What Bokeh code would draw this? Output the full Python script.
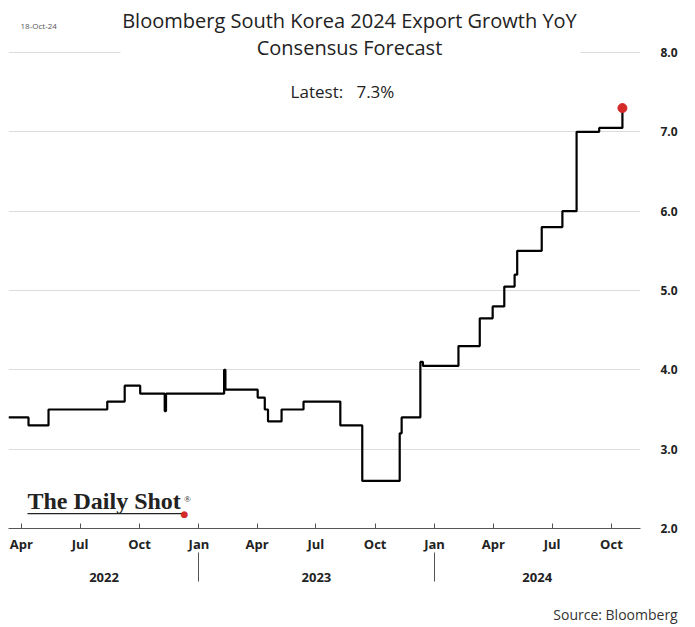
import pandas as pd
from bokeh.plotting import figure
from bokeh.models import (FixedTicker, LinearAxis, Label, BoxAnnotation,
                          Range1d, ColumnDataSource, NumeralTickFormatter)
from bokeh.embed import file_html
from bokeh.resources import INLINE

# ---- data ----
change_dates = ["2022-03-12", "2022-04-12", "2022-05-13", "2022-08-12", "2022-09-08",
                "2022-10-02", "2022-11-09", "2022-11-11", "2023-02-09", "2023-02-11",
                "2023-04-02", "2023-04-13", "2023-04-18", "2023-05-09", "2023-06-12",
                "2023-08-08", "2023-09-11", "2023-11-08", "2023-11-11", "2023-12-10",
                "2023-12-14", "2024-02-07", "2024-03-11", "2024-03-31", "2024-04-18",
                "2024-05-04", "2024-05-08", "2024-06-15", "2024-07-17", "2024-08-08",
                "2024-09-12", "2024-10-18"]
forecast_values = [3.4, 3.3, 3.5, 3.6, 3.8,
                   3.7, 3.48, 3.7, 4.0, 3.75,
                   3.65, 3.5, 3.35, 3.5, 3.6,
                   3.3, 2.6, 3.2, 3.4, 4.1,
                   4.05, 4.3, 4.65, 4.8, 5.05,
                   5.2, 5.5, 5.8, 6.0, 7.0,
                   7.05, 7.3]
latest_date = "2024-10-18"
latest_value = 7.3

month_tick_dates = ["2022-04-01", "2022-07-01", "2022-10-01", "2023-01-01", "2023-04-01",
                    "2023-07-01", "2023-10-01", "2024-01-01", "2024-04-01", "2024-07-01",
                    "2024-10-01"]
month_tick_labels = ["Apr", "Jul", "Oct", "Jan", "Apr", "Jul", "Oct", "Jan", "Apr", "Jul", "Oct"]
year_label_dates = ["2022-08-07", "2023-07-02", "2024-06-08"]
year_labels = ["2022", "2023", "2024"]
year_divider_dates = ["2023-01-01", "2024-01-01"]
y_ticks = [2, 3, 4, 5, 6, 7, 8]
x_start, x_end = "2022-03-12", "2024-11-15"
source_note = "Source: Bloomberg"


def ms(d):
    return int(pd.Timestamp(d).value // 10**6)


FONT = "Open Sans"

src = ColumnDataSource(dict(x=[ms(d) for d in change_dates], y=forecast_values))

p = figure(width=688, height=626, output_backend="svg", toolbar_location=None,
           x_range=Range1d(ms(x_start), ms(x_end)), y_range=Range1d(2.0, 8.53),
           x_axis_location="below", y_axis_location="right",
           min_border_left=8, min_border_top=10, min_border_right=48, min_border_bottom=98)
p.extra_x_ranges = {"note": Range1d(0, 632)}
p.outline_line_color = None
p.background_fill_color = "white"
p.xgrid.grid_line_color = None
p.ygrid.grid_line_color = "#dcdcdc"
p.ygrid.ticker = FixedTicker(ticks=y_ticks)

# month axis
xa = p.xaxis[0]
xa.ticker = FixedTicker(ticks=[ms(d) for d in month_tick_dates])
xa.major_label_overrides = {ms(d): lab for d, lab in zip(month_tick_dates, month_tick_labels)}
xa.axis_line_color = "#555555"
xa.axis_line_width = 1.2
xa.major_tick_line_color = "#555555"
xa.major_tick_in = 5
xa.major_tick_out = 0
xa.minor_tick_line_color = None
xa.major_label_standoff = 6
xa.major_label_text_font = FONT
xa.major_label_text_font_style = "bold"
xa.major_label_text_font_size = "13px"
xa.major_label_text_color = "#222222"

# year axis
ya2 = LinearAxis(ticker=FixedTicker(ticks=[ms(d) for d in year_label_dates],
                                    minor_ticks=[ms(d) for d in year_divider_dates]))
ya2.major_label_overrides = {ms(d): lab for d, lab in zip(year_label_dates, year_labels)}
ya2.axis_line_color = None
ya2.major_tick_line_color = None
ya2.major_tick_in = 0
ya2.major_tick_out = 0
ya2.minor_tick_line_color = "#555555"
ya2.minor_tick_in = 3
ya2.minor_tick_out = 26
ya2.major_label_standoff = -9
ya2.major_label_text_font = FONT
ya2.major_label_text_font_style = "bold"
ya2.major_label_text_font_size = "13px"
ya2.major_label_text_color = "#222222"
p.add_layout(ya2, "below")

# source note row (an unlabeled axis band used to place the note text)
note_axis = LinearAxis(x_range_name="note", ticker=FixedTicker(ticks=[607]))
note_axis.major_label_overrides = {607: source_note}
note_axis.axis_line_color = None
note_axis.major_tick_line_color = None
note_axis.minor_tick_line_color = None
note_axis.major_tick_in = 0
note_axis.major_tick_out = 0
note_axis.major_label_standoff = 20
note_axis.major_label_text_font = FONT
note_axis.major_label_text_font_size = "14px"
note_axis.major_label_text_color = "#333333"
p.add_layout(note_axis, "below")

# y axis
yax = p.yaxis[0]
yax.ticker = FixedTicker(ticks=y_ticks)
yax.formatter = NumeralTickFormatter(format="0.0")
yax.axis_line_color = None
yax.major_tick_line_color = None
yax.minor_tick_line_color = None
yax.major_label_standoff = 14
yax.major_label_text_font = FONT
yax.major_label_text_font_style = "bold"
yax.major_label_text_font_size = "12px"
yax.major_label_text_color = "#222222"

# data
p.step("x", "y", source=src, mode="after", line_color="black", line_width=2.2)
p.scatter([ms(latest_date)], [latest_value], size=9, color="#d42a2a")

# title block (white box hides gridline behind it)
p.add_layout(BoxAnnotation(left=112, right=572, bottom=470, top=520,
                           left_units="screen", right_units="screen",
                           bottom_units="screen", top_units="screen",
                           fill_color="white", fill_alpha=1.0, line_color=None))
p.add_layout(Label(x=341, y=508, x_units="screen", y_units="screen",
                   text="Bloomberg South Korea 2024 Export Growth YoY",
                   text_align="center", text_baseline="middle", text_font=FONT,
                   text_font_size="20px", text_color="#222222"))
p.add_layout(Label(x=341, y=481, x_units="screen", y_units="screen",
                   text="Consensus Forecast",
                   text_align="center", text_baseline="middle", text_font=FONT,
                   text_font_size="20px", text_color="#222222"))
p.add_layout(Label(x=334, y=437, x_units="screen", y_units="screen",
                   text="Latest:\u00a0\u00a0 7.3%",
                   text_align="center", text_baseline="middle", text_font=FONT,
                   text_font_size="17px", text_color="#222222"))
p.add_layout(Label(x=12, y=503, x_units="screen", y_units="screen",
                   text="18-Oct-24", text_align="left", text_baseline="middle",
                   text_font=FONT, text_font_size="8px", text_color="#555555"))

# logo
p.add_layout(Label(x=19, y=14.5, x_units="screen", y_units="screen",
                   text="The Daily Shot", text_align="left", text_baseline="bottom",
                   text_font="Liberation Serif", text_font_style="bold",
                   text_font_size="24px", text_color="#222222"))
p.add_layout(Label(x=179, y=30, x_units="screen", y_units="screen",
                   text="®", text_align="center", text_baseline="middle",
                   text_font="Liberation Serif", text_font_size="9px", text_color="#222222"))
p.add_layout(BoxAnnotation(left=19, right=176, bottom=14.3, top=15.6,
                           left_units="screen", right_units="screen",
                           bottom_units="screen", top_units="screen",
                           fill_color="#222222", fill_alpha=1.0, line_color=None))
p.add_layout(Label(x=176, y=14.5, x_units="screen", y_units="screen",
                   text="●", text_align="center", text_baseline="middle",
                   text_font="DejaVu Sans", text_font_size="9px", text_color="#d42a2a"))

open("out.html", "w").write(file_html(p, INLINE))
